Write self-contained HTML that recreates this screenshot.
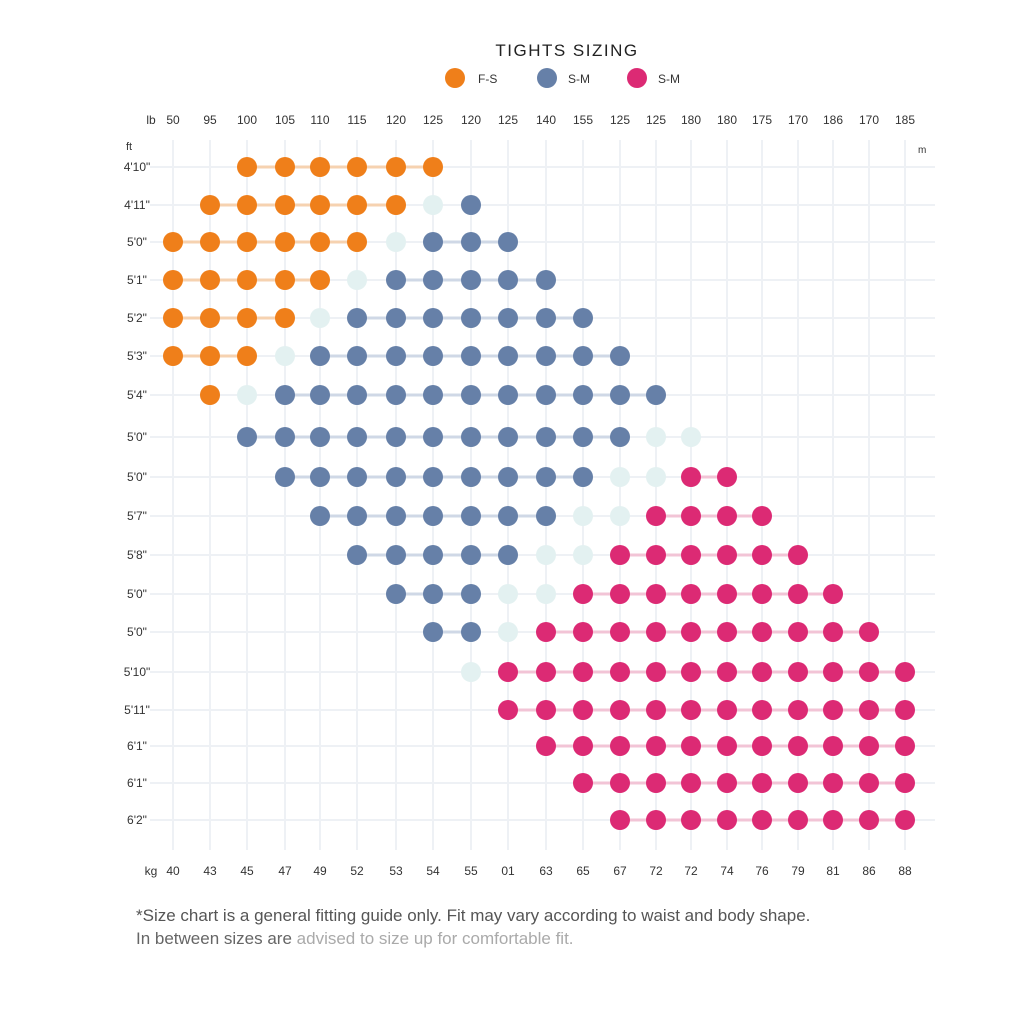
<!DOCTYPE html>
<html><head><meta charset="utf-8"><style>
body{margin:0;background:#fff;width:1024px;height:1024px;overflow:hidden;font-family:"Liberation Sans",sans-serif}
svg{position:absolute;left:0;top:0}
</style></head><body>
<svg id="s" width="1024" height="1024" xmlns="http://www.w3.org/2000/svg"></svg>
<script>
(function(){
var X=[173,210,247,285,320,357,396,433,471,508,546,583,620,656,691,727,762,798,833,869,905];
var Y=[167,205,242,280,318,356,395,437,477,516,555,594,632,672,710,746,783,820];
var TOPL=["50","95","100","105","110","115","120","125","120","125","140","155","125","125","180","180","175","170","186","170","185"];
var BOTL=["40","43","45","47","49","52","53","54","55","01","63","65","67","72","72","74","76","79","81","86","88"];
var RL=['4\'10"','4\'11"','5\'0"','5\'1"','5\'2"','5\'3"','5\'4"','5\'0"','5\'0"','5\'7"','5\'8"','5\'0"','5\'0"','5\'10"','5\'11"','6\'1"','6\'1"','6\'2"'];
var R=[
[[2,7],[],null,[],null],
[[1,6],[7],[8,8],[],null],
[[0,5],[6],[7,9],[],null],
[[0,4],[5],[6,10],[],null],
[[0,3],[4],[5,11],[],null],
[[0,2],[3],[4,12],[],null],
[[1,1],[2],[3,13],[],null],
[null,[],[2,12],[13,14],null],
[null,[],[3,11],[12,13],[14,15]],
[null,[],[4,10],[11,12],[13,16]],
[null,[],[5,9],[10,11],[12,17]],
[null,[],[6,8],[9,10],[11,18]],
[null,[],[7,8],[9],[10,19]],
[null,[],null,[8],[9,20]],
[null,[],null,[],[9,20]],
[null,[],null,[],[10,20]],
[null,[],null,[],[11,20]],
[null,[],null,[],[12,20]]];
var h='';
X.forEach(function(x){h+='<line x1="'+x+'" y1="140" x2="'+x+'" y2="850" stroke="#eef1f5" stroke-width="2"/>';});
Y.forEach(function(y){h+='<line x1="150" y1="'+y+'" x2="935" y2="'+y+'" stroke="#eef1f5" stroke-width="2"/>';});
var dots='',lines='';
var C={o:'#ef7f1a',b:'#6680a8',p:'#dc2a74',l:'#e3f1f1'};
var LC={o:'#f6d2b0',b:'#cfd8e6',p:'#f2c4d6'};
R.forEach(function(r,i){var y=Y[i];
 function seg(a,c){if(!a)return;for(var j=a[0];j<=a[1];j++)dots+='<circle cx="'+X[j]+'" cy="'+y+'" r="10" fill="'+C[c]+'"/>';
  lines+='<line x1="'+X[a[0]]+'" y1="'+y+'" x2="'+X[a[1]]+'" y2="'+y+'" stroke="'+LC[c]+'" stroke-width="3"/>';}
 function lt(l){l.forEach(function(j){dots+='<circle cx="'+X[j]+'" cy="'+y+'" r="10" fill="'+C.l+'"/>';});}
 seg(r[0],'o');lt(r[1]);seg(r[2],'b');lt(r[3]);seg(r[4],'p');});
h+=lines+dots;
TOPL.forEach(function(t,i){h+='<text x="'+X[i]+'" y="124" font-size="12" fill="#333" text-anchor="middle">'+t+'</text>';});
BOTL.forEach(function(t,i){h+='<text x="'+X[i]+'" y="875" font-size="12" fill="#333" text-anchor="middle">'+t+'</text>';});
RL.forEach(function(t,i){h+='<text x="137" y="'+(Y[i]+4)+'" font-size="12" fill="#333" text-anchor="middle">'+t+'</text>';});
h+='<text x="151" y="124" font-size="12" fill="#333" text-anchor="middle">lb</text>'+
'<text x="126" y="150" font-size="11" fill="#333">ft</text>'+
'<text x="918" y="153" font-size="10" fill="#333">m</text>'+
'<text x="151" y="875" font-size="12" fill="#333" text-anchor="middle">kg</text>'+
'<text x="567" y="56" font-size="17" fill="#222" text-anchor="middle" letter-spacing="1.5">TIGHTS SIZING</text>'+
'<circle cx="455" cy="78" r="10" fill="'+C.o+'"/><text x="478" y="83" font-size="12" fill="#333">F-S</text>'+
'<circle cx="547" cy="78" r="10" fill="'+C.b+'"/><text x="568" y="83" font-size="12" fill="#333">S-M</text>'+
'<circle cx="637" cy="78" r="10" fill="'+C.p+'"/><text x="658" y="83" font-size="12" fill="#333">S-M</text>'+
'<text x="136" y="921" font-size="17" fill="#555">*Size chart is a general fitting guide only. Fit may vary according to waist and body shape.</text>'+
'<text x="136" y="944" font-size="17" fill="#666">In between sizes are <tspan fill="#aaa">advised to size up for comfortable fit.</tspan></text>';
document.getElementById('s').innerHTML=h;
})();
</script>
</body></html>
